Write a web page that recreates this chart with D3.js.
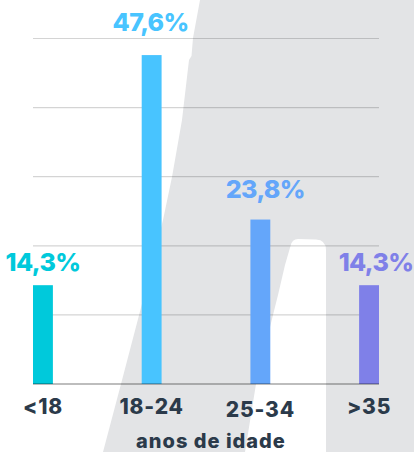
<!DOCTYPE html>
<html>
<head>
<meta charset="utf-8">
<script src="https://cdn.jsdelivr.net/npm/d3@7"></script>
<style>
  body { margin: 0; background: #fff; }
  svg { display: block; font-family: Inter, "Open Sans", sans-serif; }
</style>
</head>
<body>
<svg id="chart" width="414" height="452"></svg>
<script>
(function() {
    // data
    const categories = ["<18", "18-24", "25-34", ">35"];
    const values = [14.3, 47.6, 23.8, 14.3];
    const valueLabels = ["14,3%", "47,6%", "23,8%", "14,3%"];
    const gridTicks = [10, 20, 30, 40, 50];
    const colors = ["#00c9db", "#48c4ff", "#64a6fa", "#7f80e8"];

    // small layout tweaks for the value / category labels
    const labelGap = [14, 24, 22, 14];
    const labelShift = [0, -1, 5, 7];
    const catDy = [0, 0, 3, 0];

    const svg = d3.select("#chart");

    const x = d3.scaleBand()
        .domain(categories)
        .range([33, 379])
        .paddingInner(0.817)
        .paddingOuter(0);

    const y = d3.scaleLinear()
        .domain([0, 50])
        .range([384, 38.5]);

    // grey background shape
    svg.append("path")
        .attr("d", "M200,0 L414,0 L414,452 L326,452 L326,250 Q326,240 316,239.5 L298,239 Q292,239 290.5,246 L285,265 L278,295 L273,315 L256,384 L245,452 L103,452 L121,384 L143,300 L163,220 L172,177 L182,120 L183.5,107 L189,60 L191.5,56 L193,38 Z")
        .attr("fill", "#e3e4e6");

    // gridlines
    svg.append("g")
        .selectAll("line")
        .data(gridTicks)
        .join("line")
        .attr("x1", x.range()[0])
        .attr("x2", x.range()[1])
        .attr("y1", d => y(d))
        .attr("y2", d => y(d))
        .attr("stroke", "#000")
        .attr("stroke-opacity", 0.17)
        .attr("stroke-width", 1.2);

    // bars
    svg.append("g")
        .selectAll("rect")
        .data(values)
        .join("rect")
        .attr("x", (d, i) => x(categories[i]))
        .attr("y", d => y(d))
        .attr("width", x.bandwidth())
        .attr("height", d => y(0) - y(d))
        .attr("fill", (d, i) => colors[i]);

    // baseline
    svg.append("line")
        .attr("x1", x.range()[0])
        .attr("x2", x.range()[1])
        .attr("y1", y(0))
        .attr("y2", y(0))
        .attr("stroke", "#000")
        .attr("stroke-opacity", 0.35)
        .attr("stroke-width", 1.5);

    // value labels
    svg.append("g")
        .selectAll("text")
        .data(values)
        .join("text")
        .attr("x", (d, i) => x(categories[i]) + x.bandwidth() / 2 + labelShift[i])
        .attr("y", (d, i) => y(d) - labelGap[i])
        .attr("text-anchor", "middle")
        .attr("font-size", 25)
        .attr("font-weight", 800)
        .attr("letter-spacing", -0.6)
        .attr("fill", (d, i) => colors[i])
        .text((d, i) => valueLabels[i]);

    // category labels
    svg.append("g")
        .selectAll("text")
        .data(categories)
        .join("text")
        .attr("x", d => x(d) + x.bandwidth() / 2)
        .attr("y", (d, i) => 414 + catDy[i])
        .attr("text-anchor", "middle")
        .attr("font-size", 21)
        .attr("font-weight", 800)
        .attr("letter-spacing", 0.8)
        .attr("fill", "#2b3a4a")
        .text(d => d);

    svg.append("text")
        .attr("x", 211)
        .attr("y", 448)
        .attr("text-anchor", "middle")
        .attr("font-size", 20)
        .attr("font-weight", 800)
        .attr("letter-spacing", 1)
        .attr("fill", "#2b3a4a")
        .text("anos de idade");
})();
</script>
</body>
</html>
